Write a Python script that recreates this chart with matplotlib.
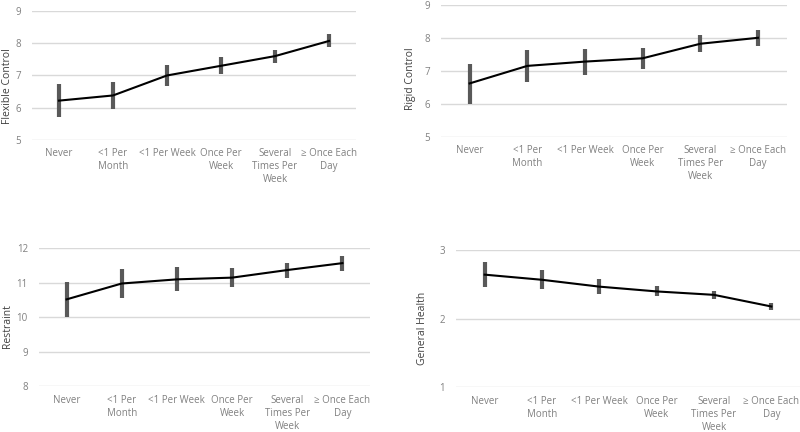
import matplotlib
matplotlib.use("Agg")
from matplotlib import pyplot as plt
import numpy as np

categories = ["Never", "<1 Per\nMonth", "<1 Per Week", "Once Per\nWeek",
              "Several\nTimes Per\nWeek", "\u2265 Once Each\nDay"]

flex_mean = [6.22, 6.38, 7.00, 7.30, 7.60, 8.07]
flex_low = [5.70, 5.95, 6.67, 7.05, 7.40, 7.88]
flex_high = [6.75, 6.80, 7.33, 7.57, 7.80, 8.28]

rigid_mean = [6.62, 7.15, 7.28, 7.38, 7.82, 8.00]
rigid_low = [6.00, 6.65, 6.88, 7.07, 7.58, 7.75]
rigid_high = [7.22, 7.63, 7.66, 7.70, 8.07, 8.23]

restr_mean = [10.52, 10.98, 11.10, 11.15, 11.37, 11.57]
restr_low = [10.00, 10.55, 10.75, 10.88, 11.15, 11.35]
restr_high = [11.03, 11.40, 11.45, 11.42, 11.58, 11.78]

health_mean = [2.645, 2.57, 2.47, 2.40, 2.35, 2.18]
health_low = [2.47, 2.43, 2.36, 2.33, 2.29, 2.13]
health_high = [2.83, 2.72, 2.58, 2.48, 2.41, 2.23]

# label, data, y range, ticks, axes rect, ylabel position (axes fraction)
panels = [
    ("Flexible Control", flex_mean, flex_low, flex_high, (5, 9), [5, 6, 7, 8, 9],
     [0.040, 0.676, 0.405, 0.2986], (-0.060, 0.42)),
    ("Rigid Control", rigid_mean, rigid_low, rigid_high, (5, 9), [5, 6, 7, 8, 9],
     [0.551, 0.683, 0.4325, 0.306], (-0.071, 0.44)),
    ("Restraint", restr_mean, restr_low, restr_high, (8, 12), [8, 9, 10, 11, 12],
     [0.04875, 0.1058, 0.41375, 0.3194], (-0.080, 0.44)),
    ("General Health", health_mean, health_low, health_high, (1, 3), [1, 2, 3],
     [0.570, 0.1035, 0.430, 0.317], (-0.081, 0.43)),
]

plt.rcParams['font.family'] = ['Open Sans', 'DejaVu Sans']

fig = plt.figure(figsize=(8, 4.32), dpi=100)

for label, mean, low, high, ylim, ticks, pos, lab_xy in panels:
    ax = fig.add_axes(pos)
    x = np.arange(len(categories))
    ax.vlines(x, low, high, color="#595959", linewidth=3.0, zorder=3)
    ax.plot(x, mean, color="black", linewidth=1.5, zorder=4)
    ax.set_xlim(-0.5, len(categories) - 0.5)
    ax.set_ylim(*ylim)
    ax.set_yticks(ticks)
    ax.set_xticks(x)
    ax.set_xticklabels(categories, fontsize=7, color="#808080", va="top", linespacing=1.25)
    ax.tick_params(axis="both", length=0, labelsize=7, labelcolor="#808080")
    ax.tick_params(axis="x", pad=6)
    ax.tick_params(axis="y", pad=8)
    ax.grid(axis="y", color="#d9d9d9", linewidth=1)
    ax.set_axisbelow(True)
    for s in ax.spines.values():
        s.set_visible(False)
    ax.set_ylabel(label, fontsize=7.5, color="#404040")
    ax.yaxis.set_label_coords(*lab_xy)

fig.savefig("out.png", dpi=100)
